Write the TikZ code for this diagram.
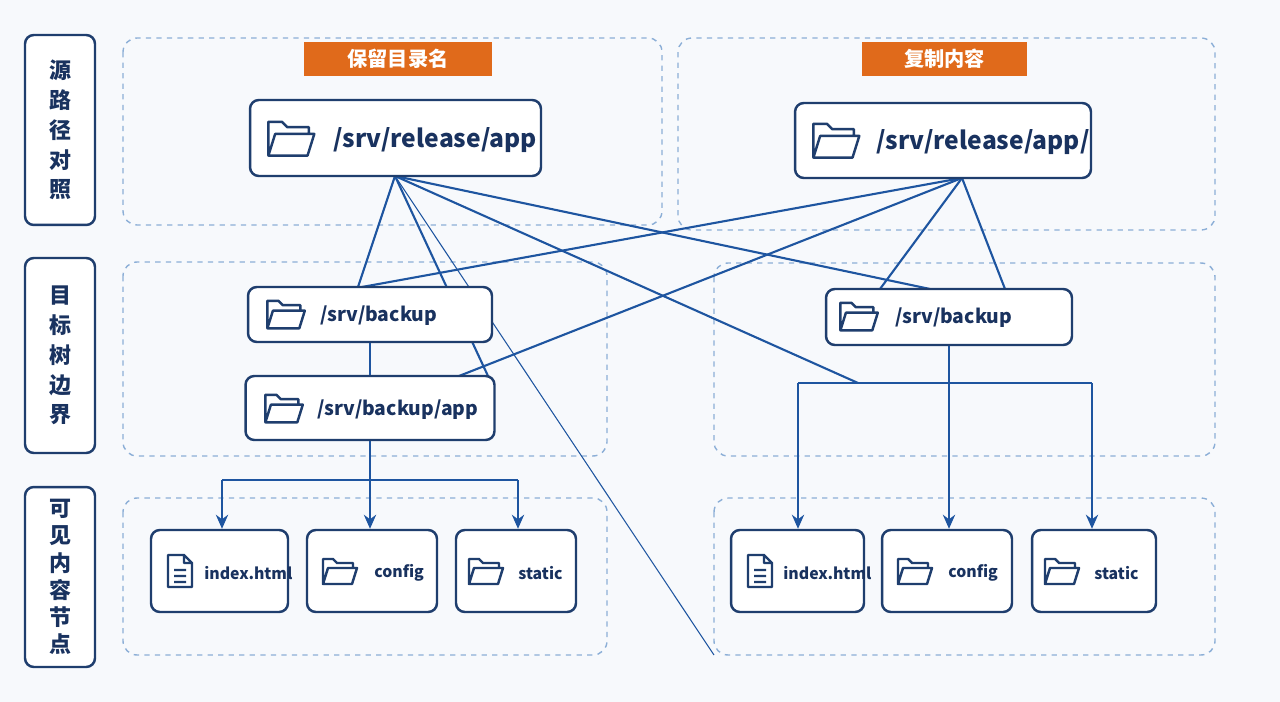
\documentclass[tikz,border=0pt]{standalone}
\usepackage{fontspec}
\usetikzlibrary{arrows.meta}
\setmainfont{Noto Sans CJK SC}
\definecolor{navy}{RGB}{31,62,110}
\definecolor{txt}{RGB}{25,50,95}
\definecolor{reg}{RGB}{140,175,215}
\definecolor{org}{RGB}{224,106,27}
\definecolor{ln}{RGB}{30,85,160}
\definecolor{bg}{RGB}{247,249,252}
\begin{document}
\begin{tikzpicture}[x=0.02cm,y=-0.02cm,
  box/.style={draw=navy,line width=1.4pt,rounded corners=5pt,fill=white,inner sep=0pt},
  side/.style={box,minimum width=1.4cm,text=txt,font=\bfseries\fontsize{12.5}{17}\selectfont,align=center},
  region/.style={draw=reg,dashed,line width=0.8pt,rounded corners=8pt},
  tag/.style={fill=org,text=white,font=\bfseries\fontsize{11.5}{13}\selectfont,inner sep=0pt,minimum height=0.68cm},
  conn/.style={draw=ln,line width=1.2pt},
  arr/.style={conn,-{Stealth[length=8pt,width=7pt]}},
  lbl/.style={text=txt,font=\bfseries,anchor=west,inner sep=0pt},
  folder/.pic={\draw[draw=navy,line width=1.4pt,line join=round]
     (-16,13) -- (-16,-12) -- (-6,-12) -- (-2,-8) -- (14,-8) -- (14,-3)
     (-16,13) -- (-11,-3) -- (18,-3) -- (13,13) -- cycle;},
  file/.pic={\draw[draw=navy,line width=1.4pt,line join=round]
     (-12,-16) -- (4,-16) -- (12,-8) -- (12,16) -- (-12,16) -- cycle (4,-16) -- (4,-8) -- (12,-8)
     (-6,-1) -- (6,-1) (-6,5) -- (6,5) (-6,11) -- (6,11);}
]
\fill[bg] (0,0) rectangle (1280,702);
\useasboundingbox (0,0) rectangle (1280,702);
% regions
\draw[region] (123,38) rectangle (662,225);
\draw[region] (678,38) rectangle (1215,230);
\draw[region] (123,262) rectangle (607,456);
\draw[region] (714,263) rectangle (1215,456);
\draw[region] (123,498) rectangle (607,655);
\draw[region] (714,498) rectangle (1215,655);
% side labels
\node[side,minimum height=3.8cm] (s1) at (60,130) {源\\路\\径\\对\\照};
\node[side,minimum height=3.9cm] (s2) at (60,355.5) {目\\标\\树\\边\\界};
\node[side,minimum height=3.6cm,font=\bfseries\fontsize{12.5}{15.5}\selectfont] (s3) at (60,577) {可\\见\\内\\容\\节\\点};
% tags
\node[tag,minimum width=3.76cm] (t1) at (398,59) {保留目录名};
\node[tag,minimum width=3.3cm] (t2) at (944.5,59) {复制内容};
% free coordinates
\coordinate (a1) at (395,176);
\coordinate (a2) at (962,178);
\coordinate (jl1) at (222,480);
\coordinate (jl2) at (518,480);
\coordinate (jr) at (858,383);
\coordinate (jr1) at (798,383);
\coordinate (jr2) at (1092,383);
\coordinate (far) at (714,655);
\coordinate (bl1) at (358,287);
\coordinate (bl2) at (362,287);
\coordinate (ba1) at (488,376);
\coordinate (ba2) at (459,376);
\coordinate (br1) at (930,289);
\coordinate (br2) at (880,289);
\coordinate (br3) at (1005,289);
\draw[conn] (a1) -- (bl1);
\draw[conn] (a1) -- (ba1);
\draw[conn] (a1) -- (br1);
\draw[conn] (a1) -- (jr);
\draw[conn,line width=0.6pt] (a1) -- (far);
\draw[conn] (a2) -- (bl2);
\draw[conn] (a2) -- (ba2);
\draw[conn] (a2) -- (br2);
\draw[conn] (a2) -- (br3);
% nodes
\node[box,minimum width=5.82cm,minimum height=1.52cm] (srcL) at (395.5,138) {};
\node[box,minimum width=5.92cm,minimum height=1.5cm] (srcR) at (943,140.5) {};
\node[box,minimum width=4.88cm,minimum height=1.1cm] (bkL) at (370,314.5) {};
\node[box,minimum width=4.98cm,minimum height=1.28cm] (bkappL) at (370,408) {};
\node[box,minimum width=4.92cm,minimum height=1.12cm] (bkR) at (949,317) {};
\node[box,minimum width=2.74cm,minimum height=1.64cm] (idxL) at (219.5,571) {};
\node[box,minimum width=2.6cm,minimum height=1.64cm] (cfgL) at (372,571) {};
\node[box,minimum width=2.4cm,minimum height=1.64cm] (stL) at (516,571) {};
\node[box,minimum width=2.66cm,minimum height=1.64cm] (idxR) at (797.5,571) {};
\node[box,minimum width=2.6cm,minimum height=1.64cm] (cfgR) at (947,571) {};
\node[box,minimum width=2.48cm,minimum height=1.64cm] (stR) at (1094,571) {};
% icons and labels
\pic[scale=1.35] at (290,138) {folder};
\node[lbl,font=\bfseries\fontsize{14}{16}\selectfont] (tsl) at (333,140) {/srv/release/app};
\pic[scale=1.35] at (835,140) {folder};
\node[lbl,font=\bfseries\fontsize{14}{16}\selectfont] (tsr) at (876,142) {/srv/release/app/};
\pic[scale=1.1] at (285,314) {folder};
\node[lbl,font=\bfseries\fontsize{11}{13}\selectfont] (tbl) at (320,316) {/srv/backup};
\pic[scale=1.1] at (283,408) {folder};
\node[lbl,font=\bfseries\fontsize{11}{13}\selectfont] (tbal) at (317,410) {/srv/backup/app};
\pic[scale=1.1] at (858,316) {folder};
\node[lbl,font=\bfseries\fontsize{11}{13}\selectfont] (tbr) at (895,318) {/srv/backup};
\pic at (180,571) {file};
\node[lbl,font=\bfseries\fontsize{9}{11}\selectfont] (ti1) at (204,573) {index.html};
\pic at (339,571) {folder};
\node[lbl,font=\bfseries\fontsize{9}{11}\selectfont] (tc1) at (374,573) {config};
\pic at (485,571) {folder};
\node[lbl,font=\bfseries\fontsize{9}{11}\selectfont] (tst1) at (518,573) {static};
\pic at (760,571) {file};
\node[lbl,font=\bfseries\fontsize{9}{11}\selectfont] (ti2) at (783,573) {index.html};
\pic at (914,571) {folder};
\node[lbl,font=\bfseries\fontsize{9}{11}\selectfont] (tc2) at (948,573) {config};
\pic at (1061,571) {folder};
\node[lbl,font=\bfseries\fontsize{9}{11}\selectfont] (tst2) at (1094,573) {static};
% tree connectors
\draw[conn] (bkL.south) -- (bkappL.north);
\draw[arr] (bkappL.south) -- (bkappL.south |- cfgL.north);
\draw[conn] (jl1) -- (jl2);
\draw[arr] (jl1) -- (jl1 |- idxL.north);
\draw[arr] (jl2) -- (jl2 |- stL.north);
\draw[arr] (bkR.south) -- (bkR.south |- cfgR.north);
\draw[conn] (jr1) -- (jr2);
\draw[arr] (jr1) -- (jr1 |- idxR.north);
\draw[arr] (jr2) -- (jr2 |- stR.north);
\end{tikzpicture}
\end{document}
